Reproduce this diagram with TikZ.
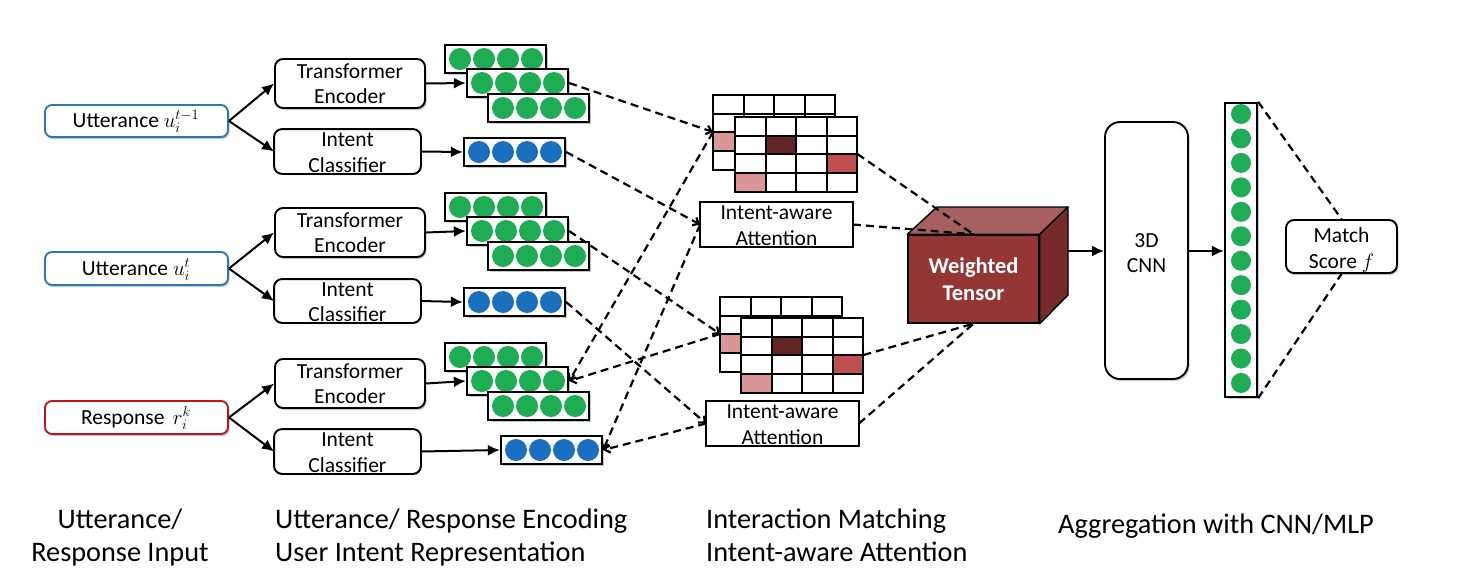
\documentclass[tikz,border=0pt]{standalone}
\usepackage{fontspec}
\setmainfont{Carlito}
\usetikzlibrary{arrows.meta,shadows,fit}
\definecolor{inblue}{RGB}{46,117,182}
\definecolor{inred}{RGB}{192,20,30}
\definecolor{dotgreen}{RGB}{30,172,84}
\definecolor{dotblue}{RGB}{26,112,190}
\definecolor{celldark}{RGB}{99,37,35}
\definecolor{cellred}{RGB}{192,80,77}
\definecolor{cellpink}{RGB}{217,150,148}
\definecolor{cubefront}{RGB}{148,54,52}
\definecolor{cubetop}{RGB}{166,96,94}
\definecolor{cubeside}{RGB}{118,43,41}
\newcommand\boxfont{\fontsize{21.5}{25}\selectfont}
\newcommand\labfont{\fontsize{28.3}{32}\selectfont}
\newcommand\cubefont{\fontsize{22.5}{27}\selectfont\bfseries}
\tikzset{
  shd/.style={drop shadow={shadow xshift=1.5pt,shadow yshift=-2pt,opacity=0.3,fill=black!70}},
  frame/.style={line width=1.9pt, fill=white, inner sep=0pt},
  inbox/.style={frame, rounded corners=7pt, shd},
  procbox/.style={frame, draw=black, rounded corners=8pt, shd},
  clipbox/.style={frame, draw=none, shd},
  attbox/.style={frame, draw=black, shd},
  rowbox/.style={frame, draw=black, line width=2.3pt, shd},
  dot/.style={circle, inner sep=0pt, minimum size=22pt, draw=none},
  cdot/.style={circle, inner sep=0pt, minimum size=20pt, draw=none, fill=dotgreen},
  txt/.style={font=\boxfont, inner sep=0pt, anchor=base},
  lab/.style={font=\labfont, inner sep=0pt},
  arr/.style={line width=2pt, -{Latex[length=12pt,width=11pt]}},
  dline/.style={line width=2.2pt, dash pattern=on 8pt off 5pt},
  darr/.style={dline, -{Straight Barb[length=5pt,width=9pt]}},
  gline/.style={line width=1.9pt},
  reborder/.style={line width=1.9pt},
}
\newcommand\vecrow[4]{%
  \node[rowbox, fit={(#2,#3) (#2+101,#3+28)}] (#1) {};
  \foreach \k in {0,1,2,3}{\node[dot, fill=#4] (#1-\k) at (#2+15+24*\k,#3+14) {};}
}
\newcommand\encstack[2]{%
  \vecrow{#1t}{445}{#2}{dotgreen}
  \vecrow{#1m}{467}{#2+24}{dotgreen}
  \vecrow{#1b}{488}{#2+49}{dotgreen}
}
\newcommand\cell[5]{\fill[#5] ({#1+30.6*#3},{#2+18.7*#4}) rectangle ++(30.6,18.7);}
\newcommand\gridbase[2]{\fill[white] (#1,#2) rectangle ++(122.4,74.8);}
\newcommand\gridlines[2]{%
  \foreach \i in {1,2,3}{\draw[gline] ({#1+30.6*\i},#2) -- ++(0,74.8);}
  \foreach \j in {1,2,3}{\draw[gline] (#1,{#2+18.7*\j}) -- ++(122.4,0);}
  \draw[gline] (#1,#2) rectangle ++(122.4,74.8);
}
\begin{document}
\begin{tikzpicture}[x=1pt,y=-1pt]
\useasboundingbox[fill=white] (0,0) rectangle (1472,582);

% ---- inputs
\node[inbox, draw=inblue, fit={(45,105) (228,137)}] (in1) {};
\node[txt] (in1t) at (136,127) {Utterance $u_i^{t-1}$};
\node[inbox, draw=inblue, fit={(45,252) (228,285)}] (in2) {};
\node[txt] (in2t) at (136,275) {Utterance $u_i^{t}$};
\node[inbox, draw=inred, fit={(45,401) (228,434)}] (in3) {};
\node[txt] (in3t) at (136,424) {Response\, $r_i^{k}$};

% ---- encoders / classifiers
\node[procbox, fit={(275,59) (425,108)}] (te1) {};
\node[txt] (te1a) at (350,78) {Transformer};
\node[txt] (te1b) at (350,103) {Encoder};
\node[procbox, fit={(275,208) (425,257)}] (te2) {};
\node[txt] (te2a) at (350,227) {Transformer};
\node[txt] (te2b) at (350,252) {Encoder};
\node[procbox, fit={(275,359) (425,408)}] (te3) {};
\node[txt] (te3a) at (350,378) {Transformer};
\node[txt] (te3b) at (350,403) {Encoder};

\node[clipbox, rounded corners=8pt, fit={(275,130) (420,173)}] (ic1) {};
\node[txt] (ic1a) at (347.5,146) {Intent};
\node[txt] (ic1b) at (347.5,172) {Classifier};
\draw[reborder, rounded corners=8pt] (ic1.north west) rectangle (ic1.south east);
\node[clipbox, rounded corners=8pt, fit={(275,280) (420,322)}] (ic2) {};
\node[txt] (ic2a) at (347.5,296) {Intent};
\node[txt] (ic2b) at (347.5,321) {Classifier};
\draw[reborder, rounded corners=8pt] (ic2.north west) rectangle (ic2.south east);
\node[clipbox, rounded corners=8pt, fit={(275,430) (420,473)}] (ic3) {};
\node[txt] (ic3a) at (347.5,446) {Intent};
\node[txt] (ic3b) at (347.5,472) {Classifier};
\draw[reborder, rounded corners=8pt] (ic3.north west) rectangle (ic3.south east);

\foreach \s in {1,2,3}{
  \draw[arr] (in\s.east) -- (te\s.west);
  \draw[arr] (in\s.east) -- (ic\s.west);
}

% ---- encoded rows
\encstack{sa}{45}
\encstack{sb}{193}
\encstack{sc}{343}
\vecrow{b1}{464}{138}{dotblue}
\vecrow{b2}{464}{288}{dotblue}
\vecrow{b3}{501}{436}{dotblue}

\draw[arr] (te1.east) -- (sam.west);
\draw[arr] (te2.east) -- (sbm.west);
\draw[arr] (te3.east) -- (scm.west);
\draw[arr] (ic1.east) -- (b1.west);
\draw[arr] (ic2.east) -- (b2.west);
\draw[arr] (ic3.east) -- (b3.west);

% ---- matrices
\gridbase{713}{95}\cell{713}{95}{0}{2}{cellpink}\gridlines{713}{95}
\gridbase{735}{117}\cell{735}{117}{1}{1}{celldark}\cell{735}{117}{3}{2}{cellred}\cell{735}{117}{0}{3}{cellpink}\gridlines{735}{117}
\gridbase{720}{297}\cell{720}{297}{0}{2}{cellpink}\gridlines{720}{297}
\gridbase{741}{318}\cell{741}{318}{1}{1}{celldark}\cell{741}{318}{3}{2}{cellred}\cell{741}{318}{0}{3}{cellpink}\gridlines{741}{318}
\coordinate (m1l) at (713,132);
\coordinate (m1r) at (857.4,154);
\coordinate (m2l) at (720,334);
\coordinate (m2r) at (863.4,355);

% ---- attention boxes
\node[clipbox, fit={(701,203) (852,246)}] (a1) {};
\node[txt] (a1a) at (776.5,219) {Intent-aware};
\node[txt] (a1b) at (776.5,245) {Attention};
\draw[reborder] (a1.north west) rectangle (a1.south east);
\node[clipbox, fit={(707,402) (858,445)}] (a2) {};
\node[txt] (a2a) at (782.5,418) {Intent-aware};
\node[txt] (a2b) at (782.5,444) {Attention};
\draw[reborder] (a2.north west) rectangle (a2.south east);

% ---- dashed interaction lines
\draw[darr] (sam.east) -- (m1l);
\draw[darr] (m1l) -- (scm.east);
\draw[darr] (b1.east) -- (a1.west);
\draw[darr] (a1.west) -- (b3.east);
\draw[darr] (sbm.east) -- (m2l);
\draw[darr] (m2l) -- (scm.east);
\draw[darr] (b2.east) -- (a2.west);
\draw[darr] (a2.west) -- (b3.east);

% ---- weighted tensor cube
\node[fit={(908,235) (1039,323)}, inner sep=0pt, fill=cubefront, draw=black, line width=1.4pt] (cube) {};
\filldraw[fill=cubetop, line width=1.4pt, line join=round] (cube.north west) -- (937,207) -- (1068,207) -- (cube.north east) -- cycle;
\filldraw[fill=cubeside, line width=1.4pt, line join=round] (cube.north east) -- (1068,207) -- (1068,295) -- (cube.south east) -- cycle;
\coordinate (cuber) at (1068,251);
\node[txt, font=\cubefont, text=white] (wt1) at (973.5,273) {Weighted};
\node[txt, font=\cubefont, text=white] (wt2) at (973.5,300) {Tensor};

\draw[dline] (m1r) -- (cube.north);
\draw[dline] (a1.east) -- (cube.north);
\draw[dline] (m2r) -- (cube.south);
\draw[dline] (a2.east) -- (cube.south);

% ---- aggregation
\node[procbox, rounded corners=15pt, fit={(1105,122) (1188,379)}] (cnn) {};
\node[txt] (cnna) at (1146.5,247) {3D};
\node[txt] (cnnb) at (1146.5,272) {CNN};
\node[rowbox, fit={(1225,103) (1257,397)}] (col) {};
\foreach \k in {0,...,11}{\node[cdot] (c\k) at (1241,114+24.45*\k) {};}
\node[procbox, fit={(1286,220) (1397,273)}] (match) {};
\node[txt] (ma) at (1341.5,242) {Match};
\node[txt] (mb) at (1341.5,268) {Score $f$};

\draw[arr] (cuber) -- (cnn.west |- cuber);
\draw[arr] (cnn.east |- cuber) -- (col.west |- cuber);
\draw[dline] (col.north east) -- (match.north);
\draw[dline] (col.south east) -- (match.south);

% ---- stage labels
\node[lab, anchor=base] (l1a) at (120,528) {Utterance/};
\node[lab, anchor=base] (l1b) at (120,561) {Response Input};
\node[lab, anchor=base west] (l2a) at (275,528) {Utterance/ Response Encoding};
\node[lab, anchor=base west] (l2b) at (275,561) {User Intent Representation};
\node[lab, anchor=base west] (l3a) at (706,528) {Interaction Matching};
\node[lab, anchor=base west] (l3b) at (706,561) {Intent-aware Attention};
\node[lab, anchor=base west] (l4) at (1058,533) {Aggregation with CNN/MLP};
\end{tikzpicture}
\end{document}
